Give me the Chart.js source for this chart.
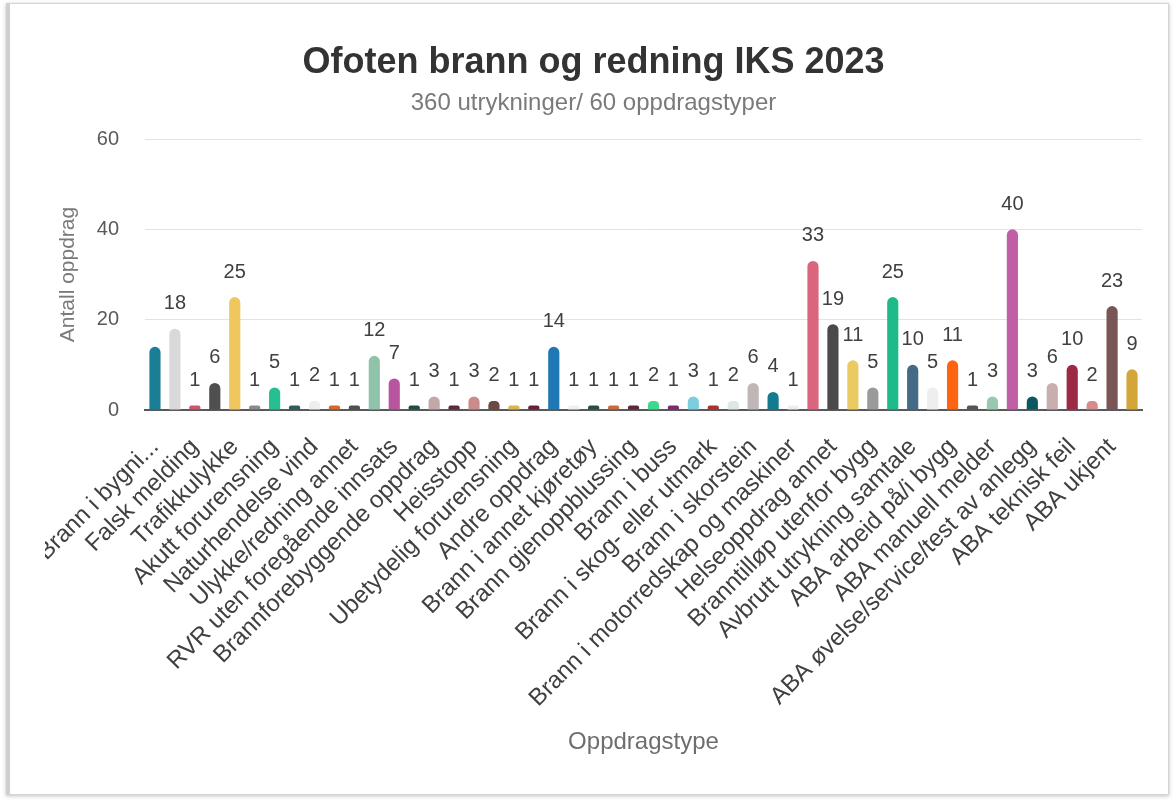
<!DOCTYPE html>
<html lang="no">
<head>
  <meta charset="UTF-8" />
  <title>Ofoten brann og redning IKS 2023</title>
  <script src="https://cdn.jsdelivr.net/npm/chart.js"></script>
  <style>
    html, body {
      margin: 0;
      padding: 0;
      background: #ffffff;
      overflow: hidden;
    }

    .card {
      position: absolute;
      left: 6px;
      top: 3px;
      width: 1158px;
      height: 790px;
      border: 1px solid #d4d4d4;
      border-left: 4px solid #cfcfcf;
      box-shadow: 0 1px 4px rgba(0, 0, 0, 0.25);
      background: #fff;
    }

    .chart-wrap {
      position: absolute;
      left: 45px;
      top: 5px;
      width: 1120px;
      height: 790px;
    }
  </style>
</head>
<body>

  <div class="card"></div>
  <div class="chart-wrap">
    <canvas id="oppdragChart"></canvas>
  </div>

  <script>
    // only every second category name is readable in the source; the others are left blank
    const kategorier = [
      'Brann i bygni...', '', 'Falsk melding', '', 'Trafikkulykke', '',
      'Akutt forurensning', '', 'Naturhendelse vind', '', 'Ulykke/redning annet', '',
      'RVR uten foregående innsats', '', 'Brannforebyggende oppdrag', '', 'Heisstopp', '',
      'Ubetydelig forurensning', '', 'Andre oppdrag', '', 'Brann i annet kjøretøy', '',
      'Brann gjenoppblussing', '', 'Brann i buss', '', 'Brann i skog- eller utmark', '',
      'Brann i skorstein', '', 'Brann i motorredskap og maskiner', '', 'Helseoppdrag annet', '',
      'Branntilløp utenfor bygg', '', 'Avbrutt utrykning samtale', '', 'ABA arbeid på/i bygg', '',
      'ABA manuell melder', '', 'ABA øvelse/service/test av anlegg', '', 'ABA teknisk feil', '',
      'ABA ukjent', ''
    ];

    const antall = [
      14, 18, 1, 6, 25, 1, 5, 1, 2, 1,
      1, 12, 7, 1, 3, 1, 3, 2, 1, 1,
      14, 1, 1, 1, 1, 2, 1, 3, 1, 2,
      6, 4, 1, 33, 19, 11, 5, 25, 10, 5,
      11, 1, 3, 40, 3, 6, 10, 2, 23, 9
    ];

    const farger = [
      '#1a7f94', '#d9d9d9', '#c9566b', '#4f4f4f', '#f0c75e', '#8a8a8a', '#27bf91', '#2f5d57', '#eeeeee', '#d9652a',
      '#4f4f4f', '#8fc4aa', '#b8559f', '#1e4d44', '#c2a8a8', '#5c2a3a', '#c98c8c', '#6b4a45', '#d9b64c', '#6a2136',
      '#1f78b4', '#f0f0f0', '#2b4d3f', '#c96b3c', '#5a2a3a', '#3ed88c', '#7a2d6a', '#7ccde0', '#a83434', '#dde7e4',
      '#bfb6b6', '#137a8f', '#eeeeee', '#d9667d', '#4a4a4a', '#ecca63', '#9a9a9a', '#1fba8a', '#456a86', '#eeeeee',
      '#ff6410', '#555555', '#96c9b0', '#c05fa6', '#0d5860', '#c8aeae', '#9c2a45', '#d48c8c', '#7a5555', '#d4a637'
    ];

    const yTicks = [0, 20, 40, 60];

    const FONT = '"Liberation Sans", Arial, sans-serif';

    // value labels above the bars (first bar has no label in the source)
    const verdiEtiketter = {
      id: 'verdiEtiketter',
      afterDatasetsDraw(chart) {
        const ctx = chart.ctx;
        const meta = chart.getDatasetMeta(0);
        const yScale = chart.scales.y;
        ctx.save();
        ctx.font = '20px ' + FONT;
        ctx.fillStyle = '#404040';
        ctx.textAlign = 'center';
        ctx.textBaseline = 'middle';
        meta.data.forEach((bar, i) => {
          if (i === 0) return;
          const v = antall[i];
          ctx.fillText(String(v), bar.x, yScale.getPixelForValue(v) - 25);
        });
        ctx.restore();
      }
    };

    new Chart(document.getElementById('oppdragChart'), {
      type: 'bar',
      data: {
        labels: kategorier,
        datasets: [{
          label: 'Antall oppdrag',
          data: antall,
          backgroundColor: farger,
          borderWidth: 0,
          borderRadius: 6,
          barPercentage: 0.56,
          categoryPercentage: 1
        }]
      },
      options: {
        responsive: true,
        maintainAspectRatio: false,
        animation: false,
        layout: {
          padding: { top: 0, left: 0, right: 23, bottom: 0 }
        },
        plugins: {
          legend: { display: false },
          tooltip: { enabled: false },
          title: {
            display: true,
            text: 'Ofoten brann og redning IKS 2023',
            color: '#333333',
            font: { family: FONT, size: 36, weight: 'bold' },
            padding: { top: 36, bottom: 5 }
          },
          subtitle: {
            display: true,
            text: '360 utrykninger/ 60 oppdragstyper',
            color: '#7a7a7a',
            font: { family: FONT, size: 24 },
            padding: { top: 0, bottom: 21 }
          }
        },
        scales: {
          x: {
            grid: { display: false, drawTicks: false },
            border: { display: true, color: '#595959', width: 2 },
            ticks: {
              autoSkip: false,
              maxRotation: 45,
              minRotation: 45,
              padding: 23,
              color: '#404040',
              font: { family: FONT, size: 24 }
            },
            title: {
              display: true,
              text: 'Oppdragstype',
              color: '#6e6e6e',
              font: { family: FONT, size: 24 },
              padding: { top: 0, bottom: 38 }
            },
            afterFit(scale) {
              scale.height = 385;
              scale.paddingLeft = 0;
              scale.paddingRight = 0;
            }
          },
          y: {
            min: 0,
            max: 60,
            afterBuildTicks(scale) {
              scale.ticks = yTicks.map(v => ({ value: v }));
            },
            grid: { color: '#e3e3e3', lineWidth: 1, drawTicks: false },
            border: { display: false },
            ticks: {
              padding: 26,
              color: '#595959',
              font: { family: FONT, size: 20 }
            },
            title: {
              display: true,
              text: 'Antall oppdrag',
              color: '#7a7a7a',
              font: { family: FONT, size: 21 },
              padding: { top: 11, bottom: 0 }
            },
            afterFit(scale) {
              scale.width = 100;
              scale.paddingTop = 0;
              scale.paddingBottom = 0;
            }
          }
        }
      },
      plugins: [verdiEtiketter]
    });
  </script>

</body>
</html>
